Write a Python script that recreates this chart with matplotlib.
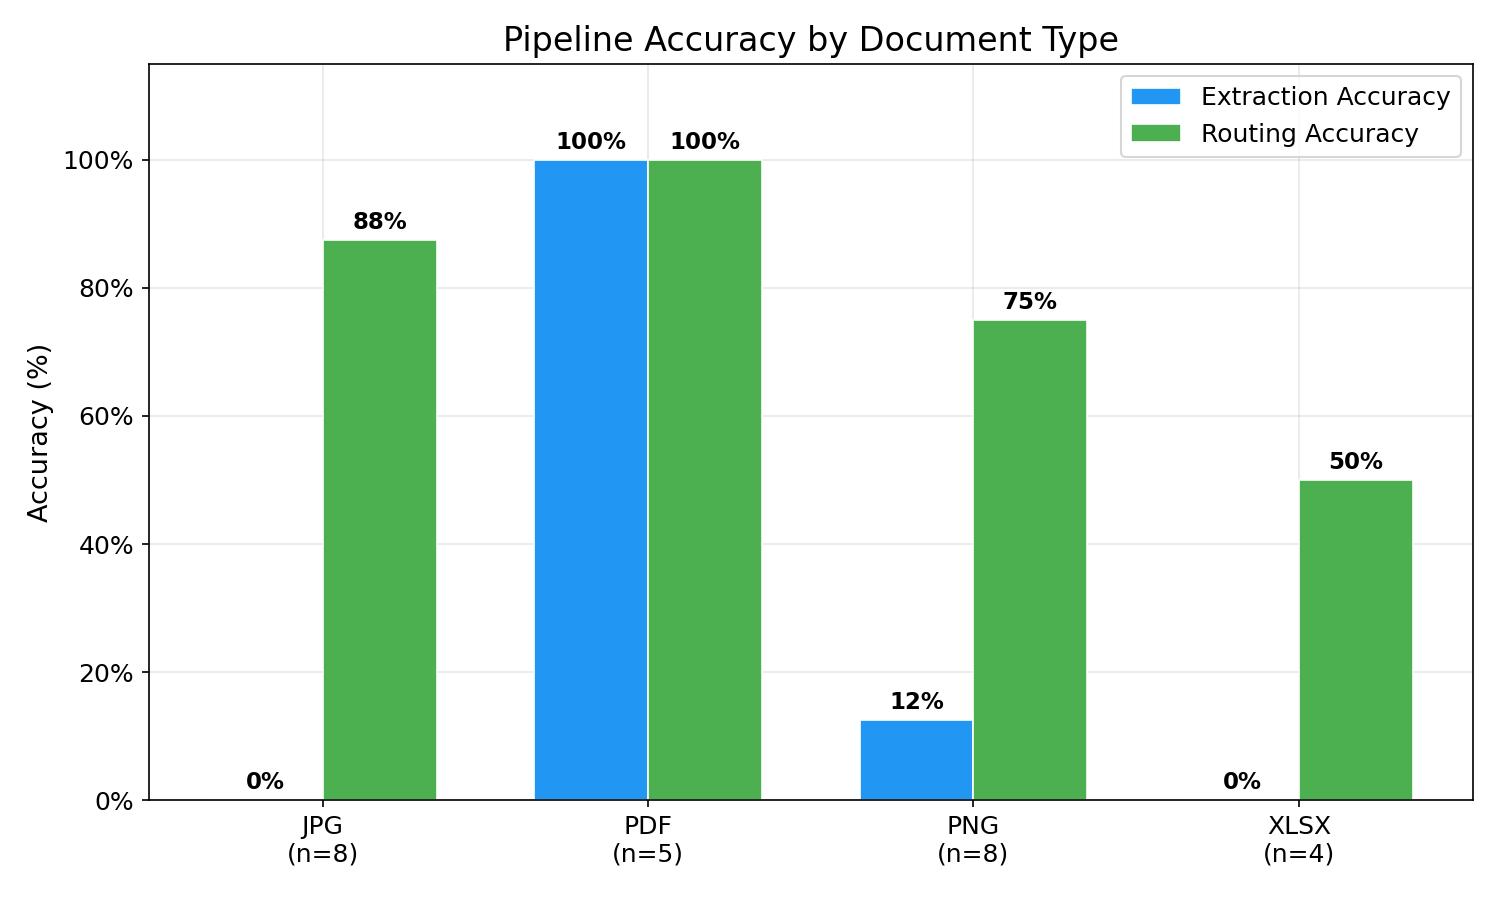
import matplotlib
matplotlib.use('Agg')
import matplotlib.pyplot as plt
import numpy as np
from matplotlib.ticker import FuncFormatter

# 数据
doc_types = ['JPG', 'PDF', 'PNG', 'XLSX']
counts = [8, 5, 8, 4]
extraction_acc = [0, 100, 12.5, 0]
routing_acc = [87.5, 100, 75, 50]

x = np.arange(len(doc_types))
w = 0.35

fig, ax = plt.subplots(figsize=(10, 6), dpi=150)

b1 = ax.bar(x - w/2, extraction_acc, w, label='Extraction Accuracy',
            color='#2196F3', edgecolor='white', linewidth=0.8)
b2 = ax.bar(x + w/2, routing_acc, w, label='Routing Accuracy',
            color='#4CAF50', edgecolor='white', linewidth=0.8)

# 柱上标数值
for bars in (b1, b2):
    for bar in bars:
        h = bar.get_height()
        ax.text(bar.get_x() + bar.get_width()/2, h + 1, f'{h:.0f}%',
                ha='center', va='bottom', fontsize=11, fontweight='bold')

ax.set_xticks(x)
ax.set_xticklabels([f'{t}\n(n={n})' for t, n in zip(doc_types, counts)], fontsize=12)
ax.set_ylim(0, 115)
ax.set_yticks(np.arange(0, 101, 20))
ax.yaxis.set_major_formatter(FuncFormatter(lambda v, p: f'{v:.0f}%'))
ax.tick_params(axis='y', labelsize=12)
ax.set_ylabel('Accuracy (%)', fontsize=13)
ax.set_title('Pipeline Accuracy by Document Type', fontsize=16)
ax.legend(loc='upper right', fontsize=12)
ax.grid(True, alpha=0.3)
ax.set_axisbelow(True)

fig.subplots_adjust(left=0.099, right=0.982, top=0.929, bottom=0.111)
fig.savefig('out.png', dpi=150, facecolor='white')
plt.close(fig)
